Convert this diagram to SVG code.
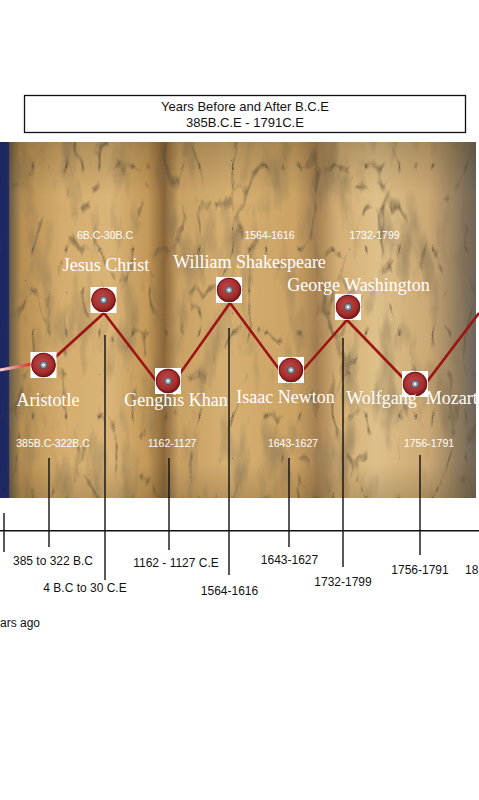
<svg xmlns="http://www.w3.org/2000/svg" width="479" height="800" viewBox="0 0 479 800">
<style>
.title{font-family:"Liberation Sans",Arial,sans-serif;font-size:13px;fill:#111;text-anchor:middle}
.name{font-family:"Liberation Serif","Times New Roman",serif;font-size:18px;fill:#fff;text-anchor:middle}
.date{font-family:"Liberation Sans",Arial,sans-serif;font-size:10.5px;fill:#fff;text-anchor:middle}
.lbl{font-family:"Liberation Sans",Arial,sans-serif;font-size:12px;fill:#111;text-anchor:middle}
.tick{stroke:#111;stroke-width:1.4;fill:none}
.route{stroke:#9c1414;stroke-width:2.6;fill:none;stroke-linejoin:miter}
</style>
<defs>
<linearGradient id="parch" x1="0" x2="1" y1="0" y2="0">
<stop offset="0" stop-color="#17215e"/>
<stop offset="0.012" stop-color="#1f2a66"/>
<stop offset="0.022" stop-color="#6f6048"/>
<stop offset="0.045" stop-color="#b88f52"/>
<stop offset="0.13" stop-color="#d4ac6e"/>
<stop offset="0.23" stop-color="#dab478"/>
<stop offset="0.31" stop-color="#c39858"/>
<stop offset="0.345" stop-color="#8a663a"/>
<stop offset="0.375" stop-color="#c8a064"/>
<stop offset="0.48" stop-color="#d6af72"/>
<stop offset="0.62" stop-color="#cba264"/>
<stop offset="0.665" stop-color="#a58052"/>
<stop offset="0.71" stop-color="#d3ae74"/>
<stop offset="0.79" stop-color="#dec08a"/>
<stop offset="0.9" stop-color="#cba874"/>
<stop offset="0.965" stop-color="#8e7a5e"/>
<stop offset="1" stop-color="#6c635a"/>
</linearGradient>
<linearGradient id="vshade" x1="0" x2="0" y1="0" y2="1">
<stop offset="0" stop-color="#3a2a10" stop-opacity="0.25"/>
<stop offset="0.15" stop-color="#3a2a10" stop-opacity="0"/>
<stop offset="0.9" stop-color="#3a2a10" stop-opacity="0"/>
<stop offset="1" stop-color="#3a2a10" stop-opacity="0.2"/>
</linearGradient>
<linearGradient id="lead" x1="0" x2="1" y1="0" y2="0">
<stop offset="0" stop-color="#f6dada"/>
<stop offset="1" stop-color="#d62222"/>
</linearGradient>
<radialGradient id="disk" cx="0.45" cy="0.42" r="0.6">
<stop offset="0" stop-color="#c24a4a"/>
<stop offset="0.7" stop-color="#a32c2c"/>
<stop offset="1" stop-color="#6e1414"/>
</radialGradient>
<filter id="tex" x="0" y="0" width="1" height="1" filterUnits="objectBoundingBox">
<feTurbulence type="fractalNoise" baseFrequency="0.05 0.014" numOctaves="4" seed="7" result="n"/>
<feColorMatrix in="n" type="matrix" values="0 0 0 0 0.2  0 0 0 0 0.15  0 0 0 0 0.08  -3.2 0 0 0 1.6"/>
</filter>
<filter id="veins" x="0" y="0" width="1" height="1" filterUnits="objectBoundingBox">
<feTurbulence type="turbulence" baseFrequency="0.03 0.012" numOctaves="3" seed="11" result="t"/>
<feColorMatrix in="t" type="matrix" values="0 0 0 0 0.12  0 0 0 0 0.09  0 0 0 0 0.05  -7 0 0 0 0.85"/>
<feGaussianBlur stdDeviation="0.6"/>
</filter>
<g id="pin">
<rect x="-13" y="-13" width="26" height="26" fill="#fff"/>
<circle r="12.2" fill="url(#disk)"/>
<circle r="11.7" fill="none" stroke="#731616" stroke-width="1"/>
<circle r="3.6" fill="#8e9ca8" stroke="#4a5560" stroke-width="1"/>
<circle r="1.3" fill="#fff"/>
</g>
</defs>

<rect width="479" height="800" fill="#fff"/>

<g id="title">
<rect x="24.5" y="95.5" width="441" height="37" fill="#fff" stroke="#111" stroke-width="1.3"/>
<text class="title" x="245" y="110.5">Years Before and After B.C.E</text>
<text class="title" x="245" y="126.5">385B.C.E - 1791C.E</text>
</g>

<g id="parchment">
<rect x="0" y="142" width="476" height="356" fill="url(#parch)"/>
<rect x="0" y="142" width="476" height="356" fill="#000" filter="url(#tex)" opacity="0.45"/>
<rect x="0" y="142" width="476" height="356" fill="#000" filter="url(#veins)" opacity="0.8"/>
<rect x="0" y="142" width="476" height="356" fill="url(#vshade)"/>
<rect x="0" y="142" width="9" height="356" fill="#1c2763" opacity="0.85"/>
</g>

<g id="connectors">
<line x1="0" y1="370" x2="32" y2="364" stroke="url(#lead)" stroke-width="3"/>
<polyline class="route" points="50,362 104,313 157,382 179,375 230,303 279,369 303,370 347,320 404,379 426,383 479,313"/>
<line class="tick" x1="0" y1="530.7" x2="479" y2="530.7"/>
<line class="tick" x1="4" y1="513" x2="4" y2="552"/>
<line class="tick" x1="49" y1="458" x2="49" y2="547"/>
<line class="tick" x1="105" y1="335" x2="105" y2="580"/>
<line class="tick" x1="169" y1="458" x2="169" y2="550"/>
<line class="tick" x1="229" y1="328" x2="229" y2="575"/>
<line class="tick" x1="289" y1="458" x2="289" y2="547"/>
<line class="tick" x1="343" y1="338" x2="343" y2="567"/>
<line class="tick" x1="420" y1="455" x2="420" y2="555"/>
</g>

<g id="aristotle">
<use href="#pin" x="43.5" y="365"/>
<text class="name" x="48" y="406">Aristotle</text>
<text class="date" x="53" y="447">385B.C-322B.C</text>
<text class="lbl" x="53" y="565">385 to 322 B.C</text>
</g>

<g id="jesus">
<use href="#pin" x="103.5" y="300"/>
<text class="name" x="106" y="271">Jesus Christ</text>
<text class="date" x="105" y="239">6B.C-30B.C</text>
<text class="lbl" x="85" y="592">4 B.C to 30 C.E</text>
</g>

<g id="genghis">
<use href="#pin" x="168" y="381"/>
<text class="name" x="176" y="406">Genghis Khan</text>
<text class="date" x="172" y="447">1162-1127</text>
<text class="lbl" x="176" y="567">1162 - 1127 C.E</text>
</g>

<g id="shakespeare">
<use href="#pin" x="229" y="290"/>
<text class="name" x="249.5" y="268">William Shakespeare</text>
<text class="date" x="269.5" y="239">1564-1616</text>
<text class="lbl" x="229.5" y="595">1564-1616</text>
</g>

<g id="newton">
<use href="#pin" x="291" y="370"/>
<text class="name" x="285.5" y="403">Isaac Newton</text>
<text class="date" x="293" y="447">1643-1627</text>
<text class="lbl" x="289.5" y="564">1643-1627</text>
</g>

<g id="washington">
<use href="#pin" x="348" y="307"/>
<text class="name" x="358.5" y="291">George Washington</text>
<text class="date" x="374.5" y="239">1732-1799</text>
<text class="lbl" x="343" y="586">1732-1799</text>
</g>

<g id="mozart">
<use href="#pin" x="415" y="384"/>
<text class="name" x="412" y="404" xml:space="preserve">Wolfgang  Mozart</text>
<text class="date" x="429" y="447">1756-1791</text>
<text class="lbl" x="420" y="574">1756-1791</text>
</g>

<g id="extra-labels">
<text class="lbl" x="465" y="574" style="text-anchor:start">18</text>
<text class="lbl" x="0" y="627" style="text-anchor:start">ars ago</text>
</g>
</svg>
